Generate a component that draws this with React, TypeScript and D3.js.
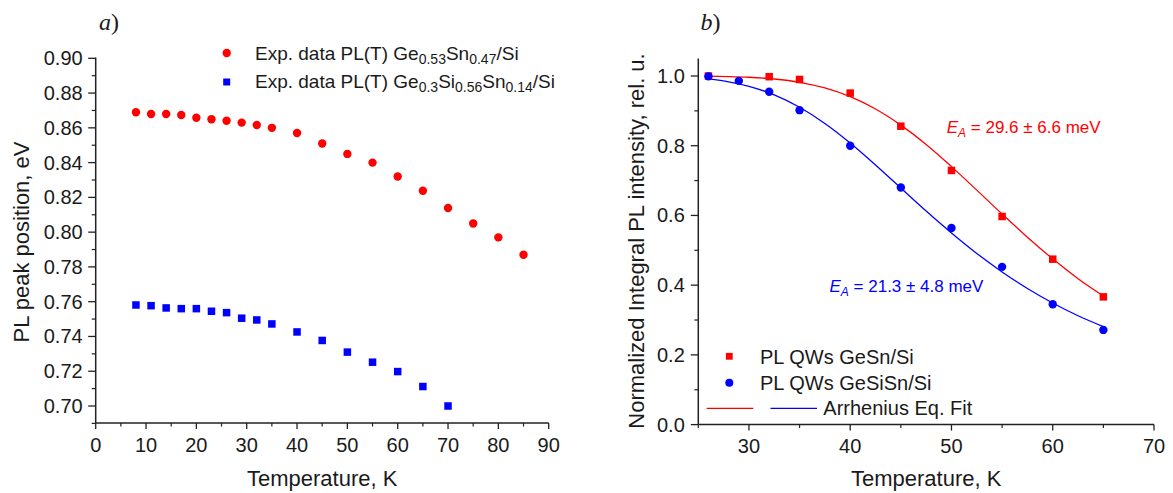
import React from "react";
import * as d3 from "d3";

// ---------- Panel a) data ----------
const tempGeSn = [8, 11, 14, 17, 20, 23, 26, 29, 32, 35, 40, 45, 50, 55, 60, 65, 70, 75, 80, 85];
const peakGeSn = [0.869, 0.868, 0.868, 0.8674, 0.8658, 0.8649, 0.8641, 0.863, 0.8616, 0.860, 0.857, 0.851, 0.845, 0.840, 0.832, 0.8238, 0.8139, 0.805, 0.797, 0.787];
const tempGeSiSn = [8, 11, 14, 17, 20, 23, 26, 29, 32, 35, 40, 45, 50, 55, 60, 65, 70];
const peakGeSiSn = [0.7581, 0.7577, 0.7564, 0.756, 0.756, 0.7545, 0.7537, 0.7505, 0.7495, 0.7472, 0.7426, 0.7377, 0.731, 0.7252, 0.7198, 0.7112, 0.700];
const xTicksA = [0, 10, 20, 30, 40, 50, 60, 70, 80, 90];
const xMinorA = [5, 15, 25, 35, 45, 55, 65, 75, 85];
const yTicksA = [0.70, 0.72, 0.74, 0.76, 0.78, 0.80, 0.82, 0.84, 0.86, 0.88, 0.90];
const yMinorA = [0.69, 0.71, 0.73, 0.75, 0.77, 0.79, 0.81, 0.83, 0.85, 0.87, 0.89];

// ---------- Panel b) data ----------
const tempQwGeSn = [26, 32, 35, 40, 45, 50, 55, 60, 65];
const intQwGeSn = [1.0, 0.998, 0.99, 0.951, 0.856, 0.729, 0.597, 0.4746, 0.3664];
const tempQwGeSiSn = [26, 29, 32, 35, 40, 45, 50, 55, 60, 65];
const intQwGeSiSn = [0.999, 0.986, 0.955, 0.902, 0.800, 0.680, 0.564, 0.4525, 0.3454, 0.2716];
// Arrhenius fit curves
const fitT = [26, 28, 30, 32.5, 35, 37.5, 40, 42.5, 45, 47.5, 50, 52.5, 55, 57.5, 60, 62.5, 65];
const fitGeSn = [0.9994, 0.9984, 0.9964, 0.9914, 0.982, 0.9657, 0.9407, 0.9054, 0.859, 0.8036, 0.740, 0.6726, 0.604, 0.5377, 0.4755, 0.4186, 0.369];
const fitGeSiSn = [0.9915, 0.9834, 0.9705, 0.9459, 0.9104, 0.8639, 0.8077, 0.7446, 0.6785, 0.6126, 0.5498, 0.4911, 0.438, 0.3904, 0.3487, 0.3122, 0.281];
const xTicksB = [30, 40, 50, 60, 70];
const xMinorB = [25, 35, 45, 55, 65];
const yTicksB = [0.0, 0.2, 0.4, 0.6, 0.8, 1.0];
const yMinorB = [0.1, 0.3, 0.5, 0.7, 0.9];

const RED = "#ff0000";
const BLUE = "#0000ff";
const AX = "#222";
const TXT = "#1a1a1a";
const FONT = "'Liberation Sans', Arial, sans-serif";
const SERIF = "'Liberation Serif', 'Times New Roman', serif";
const FS_TICK = 20;
const FS_TITLE = 22;

export default function App() {
  // Panel a scales
  const xA = d3.scaleLinear().domain([0, 90]).range([95.7, 548.7]);
  const yA = d3.scaleLinear().domain([0.70, 0.90]).range([406, 58.3]);
  const yABottom = 0.6902;

  // Panel b scales
  const xB = d3.scaleLinear().domain([25, 70]).range([698.3, 1154]);
  const yB = d3.scaleLinear().domain([0, 1.0]).range([424.6, 76]);
  const yBTop = 1.05;

  const lineB = d3
    .line<[number, number]>()
    .x((d) => xB(d[0]))
    .y((d) => yB(d[1]))
    .curve(d3.curveMonotoneX);

  const sqA = 7.5;
  const sqB = 7.5;

  const axA0 = xA(0);
  const axAy = yA(yABottom);
  const axB0 = xB(25);
  const axBy = yB(0);

  return (
    <svg
      width={1173}
      height={493}
      style={{ position: "absolute", left: 0, top: 0, background: "#fff" }}
      fontFamily={FONT}
    >
      <rect x={0} y={0} width={1173} height={493} fill="#fff" />

      {/* ================= Panel a ================= */}
      <text x={99} y={30} fontFamily={SERIF} fontStyle="italic" fontSize={24} fill={TXT}>
        a<tspan fontStyle="normal">)</tspan>
      </text>
      <line x1={axA0} x2={axA0} y1={yA(0.9) - 0.8} y2={axAy} stroke={AX} strokeWidth={1.5} />
      <line x1={axA0} x2={xA(90)} y1={axAy} y2={axAy} stroke={AX} strokeWidth={1.5} />
      {yTicksA.map((t) => (
        <g key={"ya" + t}>
          <line x1={axA0 - 7.5} x2={axA0} y1={yA(t)} y2={yA(t)} stroke={AX} strokeWidth={1.3} />
          <text x={axA0 - 13} y={yA(t) + 7} textAnchor="end" fontSize={FS_TICK} fill={TXT}>
            {t.toFixed(2)}
          </text>
        </g>
      ))}
      {yMinorA.map((t) => (
        <line key={"yam" + t} x1={axA0 - 4} x2={axA0} y1={yA(t)} y2={yA(t)} stroke={AX} strokeWidth={1.2} />
      ))}
      {xTicksA.map((t) => (
        <g key={"xa" + t}>
          <line x1={xA(t)} x2={xA(t)} y1={axAy} y2={axAy + 6} stroke={AX} strokeWidth={1.3} />
          <text x={xA(t)} y={452} textAnchor="middle" fontSize={FS_TICK} fill={TXT}>
            {t}
          </text>
        </g>
      ))}
      {xMinorA.map((t) => (
        <line key={"xam" + t} x1={xA(t)} x2={xA(t)} y1={axAy} y2={axAy + 3.5} stroke={AX} strokeWidth={1.2} />
      ))}
      <text x={(xA(0) + xA(90)) / 2} y={486} textAnchor="middle" fontSize={FS_TITLE} fill={TXT}>
        Temperature, K
      </text>
      <text transform={`translate(29,242) rotate(-90)`} textAnchor="middle" fontSize={FS_TITLE} fill={TXT}>
        PL peak position, eV
      </text>
      {tempGeSn.map((t, i) => (
        <circle key={"ra" + i} cx={xA(t)} cy={yA(peakGeSn[i])} r={4.2} fill={RED} />
      ))}
      {tempGeSiSn.map((t, i) => (
        <rect key={"ba" + i} x={xA(t) - sqA / 2} y={yA(peakGeSiSn[i]) - sqA / 2} width={sqA} height={sqA} fill={BLUE} />
      ))}
      {/* legend a */}
      <circle cx={226.7} cy={53} r={4.2} fill={RED} />
      <text x={255} y={60} fontSize={19} fill={TXT}>
        Exp. data PL(T) Ge<tspan fontSize={14} dy={4}>0.53</tspan>
        <tspan dy={-4}>Sn</tspan>
        <tspan fontSize={14} dy={4}>0.47</tspan>
        <tspan dy={-4}>/Si</tspan>
      </text>
      <rect x={226.7 - 3.5} y={82 - 3.5} width={7} height={7} fill={BLUE} />
      <text x={255} y={88} fontSize={19} fill={TXT}>
        Exp. data PL(T) Ge<tspan fontSize={14} dy={4}>0.3</tspan>
        <tspan dy={-4}>Si</tspan>
        <tspan fontSize={14} dy={4}>0.56</tspan>
        <tspan dy={-4}>Sn</tspan>
        <tspan fontSize={14} dy={4}>0.14</tspan>
        <tspan dy={-4}>/Si</tspan>
      </text>

      {/* ================= Panel b ================= */}
      <text x={700.5} y={30} fontFamily={SERIF} fontStyle="italic" fontSize={24} fill={TXT}>
        b<tspan fontStyle="normal">)</tspan>
      </text>
      <line x1={axB0} x2={axB0} y1={yB(yBTop)} y2={axBy} stroke={AX} strokeWidth={1.5} />
      <line x1={axB0} x2={xB(70)} y1={axBy} y2={axBy} stroke={AX} strokeWidth={1.5} />
      {yTicksB.map((t) => (
        <g key={"yb" + t}>
          <line x1={axB0 - 7.5} x2={axB0} y1={yB(t)} y2={yB(t)} stroke={AX} strokeWidth={1.3} />
          <text x={axB0 - 13.5} y={yB(t) + 7} textAnchor="end" fontSize={FS_TICK} fill={TXT}>
            {t.toFixed(1)}
          </text>
        </g>
      ))}
      {yMinorB.map((t) => (
        <line key={"ybm" + t} x1={axB0 - 4} x2={axB0} y1={yB(t)} y2={yB(t)} stroke={AX} strokeWidth={1.2} />
      ))}
      {xTicksB.map((t) => (
        <g key={"xb" + t}>
          <line x1={xB(t)} x2={xB(t)} y1={axBy} y2={axBy + 6} stroke={AX} strokeWidth={1.3} />
          <text x={xB(t)} y={453} textAnchor="middle" fontSize={FS_TICK} fill={TXT}>
            {t}
          </text>
        </g>
      ))}
      {xMinorB.map((t) => (
        <line key={"xbm" + t} x1={xB(t)} x2={xB(t)} y1={axBy} y2={axBy + 3.5} stroke={AX} strokeWidth={1.2} />
      ))}
      <text x={(xB(25) + xB(70)) / 2} y={486} textAnchor="middle" fontSize={FS_TITLE} fill={TXT}>
        Temperature, K
      </text>
      <text transform={`translate(644,241) rotate(-90)`} textAnchor="middle" fontSize={FS_TITLE} fill={TXT}>
        Normalized Integral PL intensity, rel. u.
      </text>
      <path d={lineB(fitT.map((t, i) => [t, fitGeSn[i]] as [number, number])) || ""} fill="none" stroke={RED} strokeWidth={1.3} />
      <path d={lineB(fitT.map((t, i) => [t, fitGeSiSn[i]] as [number, number])) || ""} fill="none" stroke={BLUE} strokeWidth={1.3} />
      {tempQwGeSn.map((t, i) => (
        <rect key={"rb" + i} x={xB(t) - sqB / 2} y={yB(intQwGeSn[i]) - sqB / 2} width={sqB} height={sqB} fill={RED} />
      ))}
      {tempQwGeSiSn.map((t, i) => (
        <circle key={"bb" + i} cx={xB(t)} cy={yB(intQwGeSiSn[i])} r={4.2} fill={BLUE} />
      ))}
      {/* annotations */}
      <text x={946.7} y={132.7} fontSize={17} fill={RED}>
        <tspan fontStyle="italic">E</tspan>
        <tspan fontStyle="italic" fontSize={12} dy={4}>A</tspan>
        <tspan dy={-4}> = 29.6 ± 6.6 meV</tspan>
      </text>
      <text x={829.5} y={292} fontSize={17} fill={BLUE}>
        <tspan fontStyle="italic">E</tspan>
        <tspan fontStyle="italic" fontSize={12} dy={4}>A</tspan>
        <tspan dy={-4}> = 21.3 ± 4.8 meV</tspan>
      </text>
      {/* legend b */}
      <rect x={729.3 - 3.4} y={356.3 - 3.4} width={6.8} height={6.8} fill={RED} />
      <text x={760} y={363.5} fontSize={20} fill={TXT}>PL QWs GeSn/Si</text>
      <circle cx={729.3} cy={382.7} r={4} fill={BLUE} />
      <text x={760} y={389.5} fontSize={20} fill={TXT}>PL QWs GeSiSn/Si</text>
      <line x1={706.7} x2={753.3} y1={408.3} y2={408.3} stroke={RED} strokeWidth={1.3} />
      <line x1={770.5} x2={817} y1={408.3} y2={408.3} stroke={BLUE} strokeWidth={1.3} />
      <text x={823.3} y={415} fontSize={20} fill={TXT}>Arrhenius Eq. Fit</text>
    </svg>
  );
}
